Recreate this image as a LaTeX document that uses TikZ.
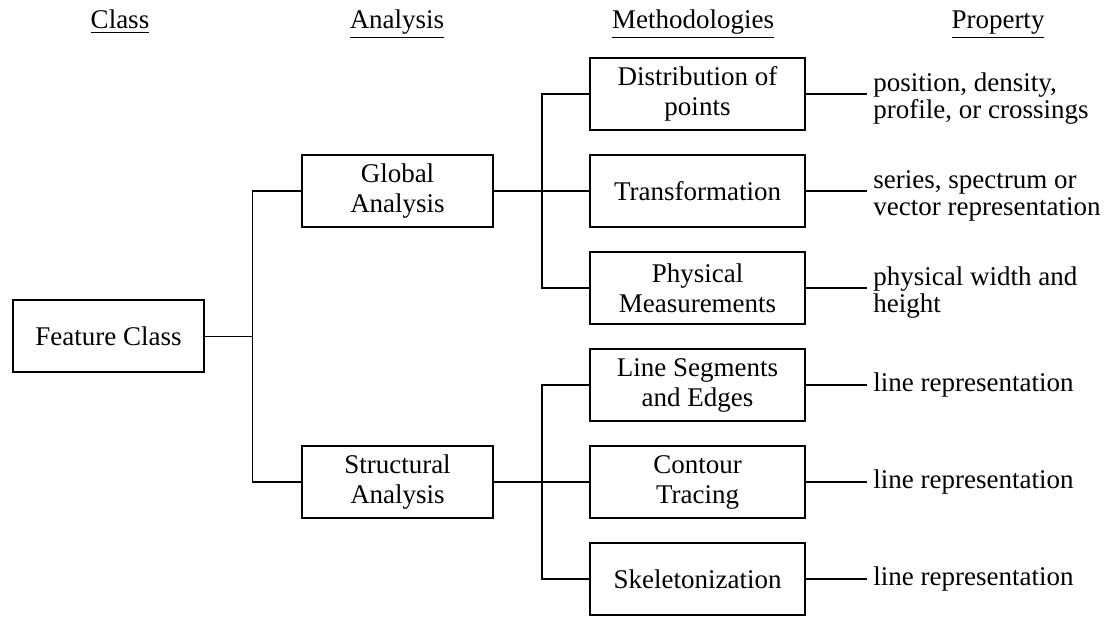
\documentclass[tikz,border=0pt]{standalone}
\usepackage{fontspec}
\setmainfont{Liberation Serif}
\usepackage{tikz}
\usetikzlibrary{positioning}

\begin{document}
\begin{tikzpicture}[x=0.5pt, y=-0.5pt, every node/.style={font=\fontsize{13.5}{15}\selectfont}]
  % Styles
  \tikzstyle{heading}=[anchor=base]
  \tikzstyle{cls}=[rectangle, draw, line width=1pt, minimum width=95.5pt, minimum height=36pt, inner ysep=2pt, align=center]
  \tikzstyle{method}=[rectangle, draw, line width=1pt, minimum width=107.5pt, minimum height=36pt, inner ysep=2pt, align=center]
  \tikzstyle{prop}=[align=left, inner xsep=3pt, font=\fontsize{13.5}{13.5}\selectfont]
  \tikzstyle{link}=[line width=0.8pt]

  \useasboundingbox (0,0) rectangle (1110,619);

  % Headings
  \node[heading] (hclass) at (120,29) {\underline{Class}};
  \node[heading] (hanalysis) at (397,29) {\underline{Analysis}};
  \node[heading] (hmethod) at (693,29) {\underline{Methodologies}};
  \node[heading] (hprop) at (998,29) {\underline{Property}};

  % Methodologies
  \node[method] (dist) at (697.5,94) {Distribution of\\points};
  \node[method, below=11.5pt of dist] (trans) {Transformation};
  \node[method, below=11.5pt of trans] (phys) {Physical\\Measurements};
  \node[method, below=11.5pt of phys] (lineseg) {Line Segments\\and Edges};
  \node[method, below=11.5pt of lineseg] (contour) {Contour\\Tracing};
  \node[method, below=11.5pt of contour] (skel) {Skeletonization};

  % Analysis and class
  \node[cls, left=47.5pt of trans] (global) {Global\\Analysis};
  \node[cls, left=47.5pt of contour] (struct) {Structural\\Analysis};
  \node[cls] (feature) at (108.5,336.5) {Feature Class};

  % Properties
  \node[prop, right=30.5pt of dist, yshift=-2.5pt] (distprop) {position, density,\\profile, or crossings};
  \node[prop, right=30.5pt of trans, yshift=-2.5pt] (transprop) {series, spectrum or\\vector representation};
  \node[prop, right=30.5pt of phys, yshift=-2.5pt] (physprop) {physical width and\\height};
  \node[prop, right=30.5pt of lineseg] (lineprop) {line representation};
  \node[prop, right=30.5pt of contour] (contprop) {line representation};
  \node[prop, right=30.5pt of skel] (skelprop) {line representation};

  % Tree lines
  \draw[link] (feature.east) -- ++(47.5,0) coordinate (bus1);
  \draw[link] (global.west) -| (bus1) |- (struct.west);
  \path (global.east) -- ++(48,0) coordinate (bus2);
  \draw[link] (global.east) -- (trans.west);
  \draw[link] (dist.west) -| (bus2) |- (phys.west);
  \path (struct.east) -- ++(48,0) coordinate (bus3);
  \draw[link] (struct.east) -- (contour.west);
  \draw[link] (lineseg.west) -| (bus3) |- (skel.west);

  % Property lines
  \draw[link] (dist.east) -- (dist.east -| distprop.west);
  \draw[link] (trans.east) -- (trans.east -| transprop.west);
  \draw[link] (phys.east) -- (phys.east -| physprop.west);
  \draw[link] (lineseg.east) -- (lineprop.west);
  \draw[link] (contour.east) -- (contprop.west);
  \draw[link] (skel.east) -- (skelprop.west);
\end{tikzpicture}
\end{document}
